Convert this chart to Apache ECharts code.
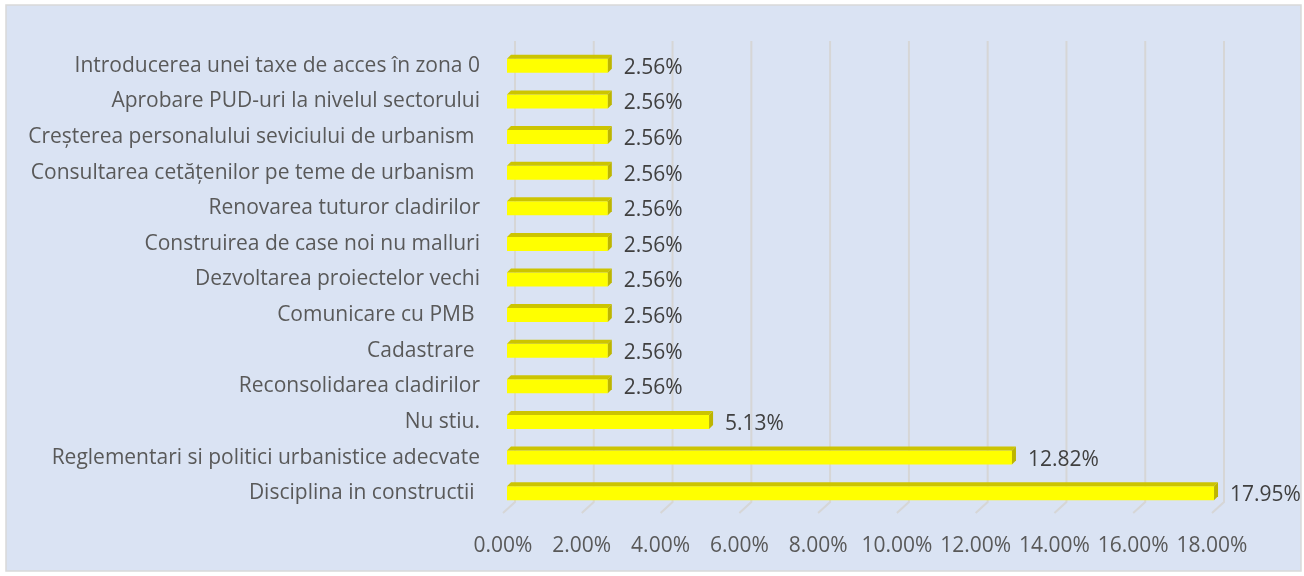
<!DOCTYPE html>
<html>
<head>
<meta charset="utf-8">
<script src="https://cdn.jsdelivr.net/npm/echarts@6/dist/echarts.min.js"></script>
<style>
  html, body { margin: 0; padding: 0; background: #ffffff; }
  #chart { width: 1304px; height: 576px; }
</style>
</head>
<body>
<div id="chart"></div>
<script>
// Categories, top to bottom
const categories = [
  'Introducerea unei taxe de acces în zona 0',
  'Aprobare PUD-uri la nivelul sectorului',
  'Creșterea personalului seviciului de urbanism ',
  'Consultarea cetățenilor pe teme de urbanism ',
  'Renovarea tuturor cladirilor',
  'Construirea de case noi nu malluri',
  'Dezvoltarea proiectelor vechi',
  'Comunicare cu PMB ',
  'Cadastrare ',
  'Reconsolidarea cladirilor',
  'Nu stiu.',
  'Reglementari si politici urbanistice adecvate',
  'Disciplina in constructii '
];
// Share of answers, percent
const values = [2.56, 2.56, 2.56, 2.56, 2.56, 2.56, 2.56, 2.56, 2.56, 2.56, 5.13, 12.82, 17.95];
// Value-axis ticks, percent
const ticks = [0, 2, 4, 6, 8, 10, 12, 14, 16, 18];

const FONT = 'Open Sans';
const FS = 21;
const DEPTH = 4;        // bar extrusion
const BAR_H = 14;       // bar front height
const WALL_DX = 8;      // back wall offset (x)
const WALL_TOP = 7;     // gridlines rise above plot top
const FLOOR_DX = 4;     // floor front edge offset (x)
const TEXT_DY = 2;      // text sits slightly below the bar centre

const chart = echarts.init(document.getElementById('chart'), null, { renderer: 'canvas' });

chart.setOption({
  backgroundColor: '#ffffff',
  animation: false,
  textStyle: { fontFamily: FONT },
  graphic: [{
    type: 'rect',
    z: -10,
    shape: { x: 6, y: 5, width: 1295, height: 566 },
    style: { fill: '#DAE3F3', stroke: '#D9D9D9', lineWidth: 1.5 }
  }],
  grid: { left: 507, right: 88, top: 48, bottom: 65, containLabel: false },
  xAxis: {
    type: 'value',
    min: 0, max: 18, interval: 2,
    axisLine: { show: false },
    axisTick: { show: false },
    splitLine: { show: false },
    axisLabel: {
      margin: 25,
      color: '#595959',
      fontSize: FS,
      fontFamily: FONT,
      padding: [0, 2 * FLOOR_DX, 0, 0],
      formatter: v => v.toFixed(2) + '%'
    }
  },
  yAxis: {
    type: 'category',
    inverse: true,
    data: categories,
    axisLine: { show: false },
    axisTick: { show: false },
    splitLine: { show: false },
    axisLabel: {
      margin: 27,
      color: '#595959',
      fontSize: FS,
      fontFamily: FONT,
      padding: [2 * TEXT_DY, 0, 0, 0]
    }
  },
  series: [
    {
      // 3D-style gridlines: back wall verticals that bend onto the floor
      type: 'custom',
      z: 1,
      silent: true,
      data: ticks.map(t => [t, 0]),
      renderItem: (params, api) => {
        const cs = params.coordSys;
        const x = api.coord([api.value(0), 0])[0];
        const top = cs.y - WALL_TOP;
        const bottom = cs.y + cs.height;
        return {
          type: 'polyline',
          shape: {
            points: [
              [x + WALL_DX, top],
              [x + WALL_DX, bottom - 9],
              [x - FLOOR_DX, bottom + 2]
            ]
          },
          style: { stroke: '#D6D6D6', lineWidth: 2, fill: null }
        };
      }
    },
    {
      type: 'bar',
      z: 2,
      data: values,
      barWidth: BAR_H,
      itemStyle: { color: '#FFFF00' },
      label: {
        show: true,
        position: 'right',
        distance: DEPTH + 12,
        offset: [0, TEXT_DY],
        color: '#404040',
        fontSize: FS,
        fontFamily: FONT,
        formatter: p => p.value.toFixed(2) + '%'
      }
    },
    {
      // top and right faces of each bar
      type: 'custom',
      z: 3,
      silent: true,
      data: values.map((v, i) => [v, i]),
      renderItem: (params, api) => {
        const end = api.coord([api.value(0), api.value(1)]);
        const start = api.coord([0, api.value(1)]);
        const top = end[1] - BAR_H / 2;
        const bottom = end[1] + BAR_H / 2;
        const x0 = start[0], x1 = end[0];
        return {
          type: 'group',
          children: [
            {
              type: 'polygon',
              shape: { points: [[x0, top], [x0 + DEPTH, top - DEPTH], [x1 + DEPTH, top - DEPTH], [x1, top]] },
              style: { fill: '#CCC400' }
            },
            {
              type: 'polygon',
              shape: { points: [[x1, top], [x1 + DEPTH, top - DEPTH], [x1 + DEPTH, bottom - DEPTH], [x1, bottom]] },
              style: { fill: '#BDB500' }
            }
          ]
        };
      }
    }
  ]
});
</script>
</body>
</html>
